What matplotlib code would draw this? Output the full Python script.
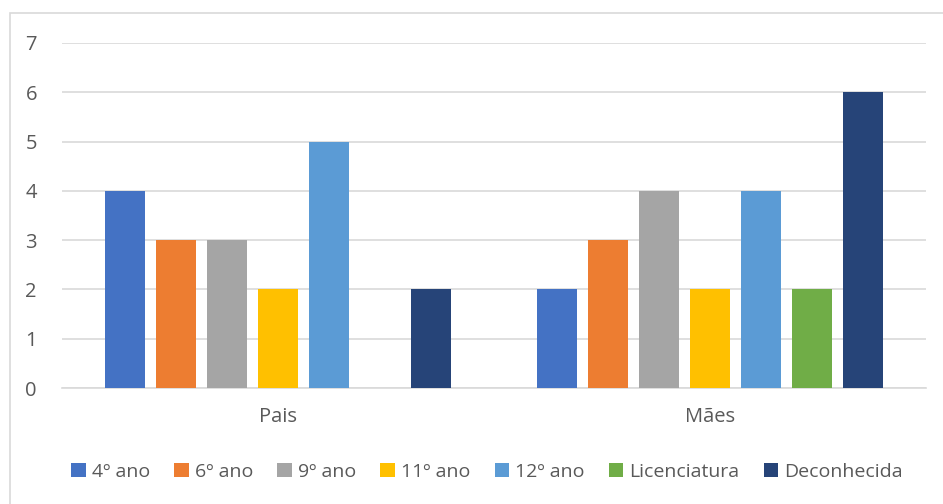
import matplotlib.pyplot as plt
import matplotlib.patches as mpatches
import numpy as np

# Numbers of parents by education level
groups = ['Pais', 'Mães']
series = ['4º ano', '6º ano', '9º ano', '11º ano', '12º ano', 'Licenciatura', 'Deconhecida']
pais = [4, 3, 3, 2, 5, 0, 2]
maes = [2, 3, 4, 2, 4, 2, 6]
colors = ['#4472C4', '#ED7D31', '#A5A5A5', '#FFC000', '#5B9BD5', '#70AD47', '#264478']

plt.rcParams['font.family'] = ['Open Sans', 'DejaVu Sans']
text_color = '#595959'

fig = plt.figure(figsize=(9.43, 5.04), dpi=100)
W, H = 943, 504

# Light frame around the chart area
fig.patches.append(mpatches.Rectangle((10 / W, -0.05), 1.0, (504 - 13) / H + 0.05,
                                      transform=fig.transFigure, fill=False,
                                      edgecolor='#D9D9D9', linewidth=1.2))

ax = fig.add_axes([62 / W, (504 - 388) / H, (926 - 62) / W, (388 - 43) / H])

x = np.arange(len(groups))
width = 40 / 432
step = 51 / 432
for i, name in enumerate(series):
    vals = [pais[i], maes[i]]
    ax.bar(x + (i - 3) * step, vals, width, color=colors[i], label=name, zorder=3)

ax.set_xlim(-0.5, 1.5)
ax.set_ylim(0, 7)
ax.set_yticks(range(8))
ax.set_xticks(x)
ax.set_xticklabels(groups)
ax.grid(axis='y', color='#D9D9D9', linewidth=1.2, zorder=0)
for side in ['top', 'right', 'left']:
    ax.spines[side].set_visible(False)
ax.spines['bottom'].set_color('#D9D9D9')
ax.spines['bottom'].set_linewidth(1.2)
ax.tick_params(length=0, labelsize=14.5, colors=text_color)
ax.tick_params(axis='y', pad=18)
ax.tick_params(axis='x', pad=14)

leg = fig.legend(loc='center', bbox_to_anchor=(487 / W, (504 - 472) / H), ncol=7,
                 frameon=False, fontsize=14, handlelength=0.75, handleheight=0.75,
                 handletextpad=0.3, columnspacing=1.25)
for t in leg.get_texts():
    t.set_color(text_color)

fig.savefig('out.png', dpi=100)
